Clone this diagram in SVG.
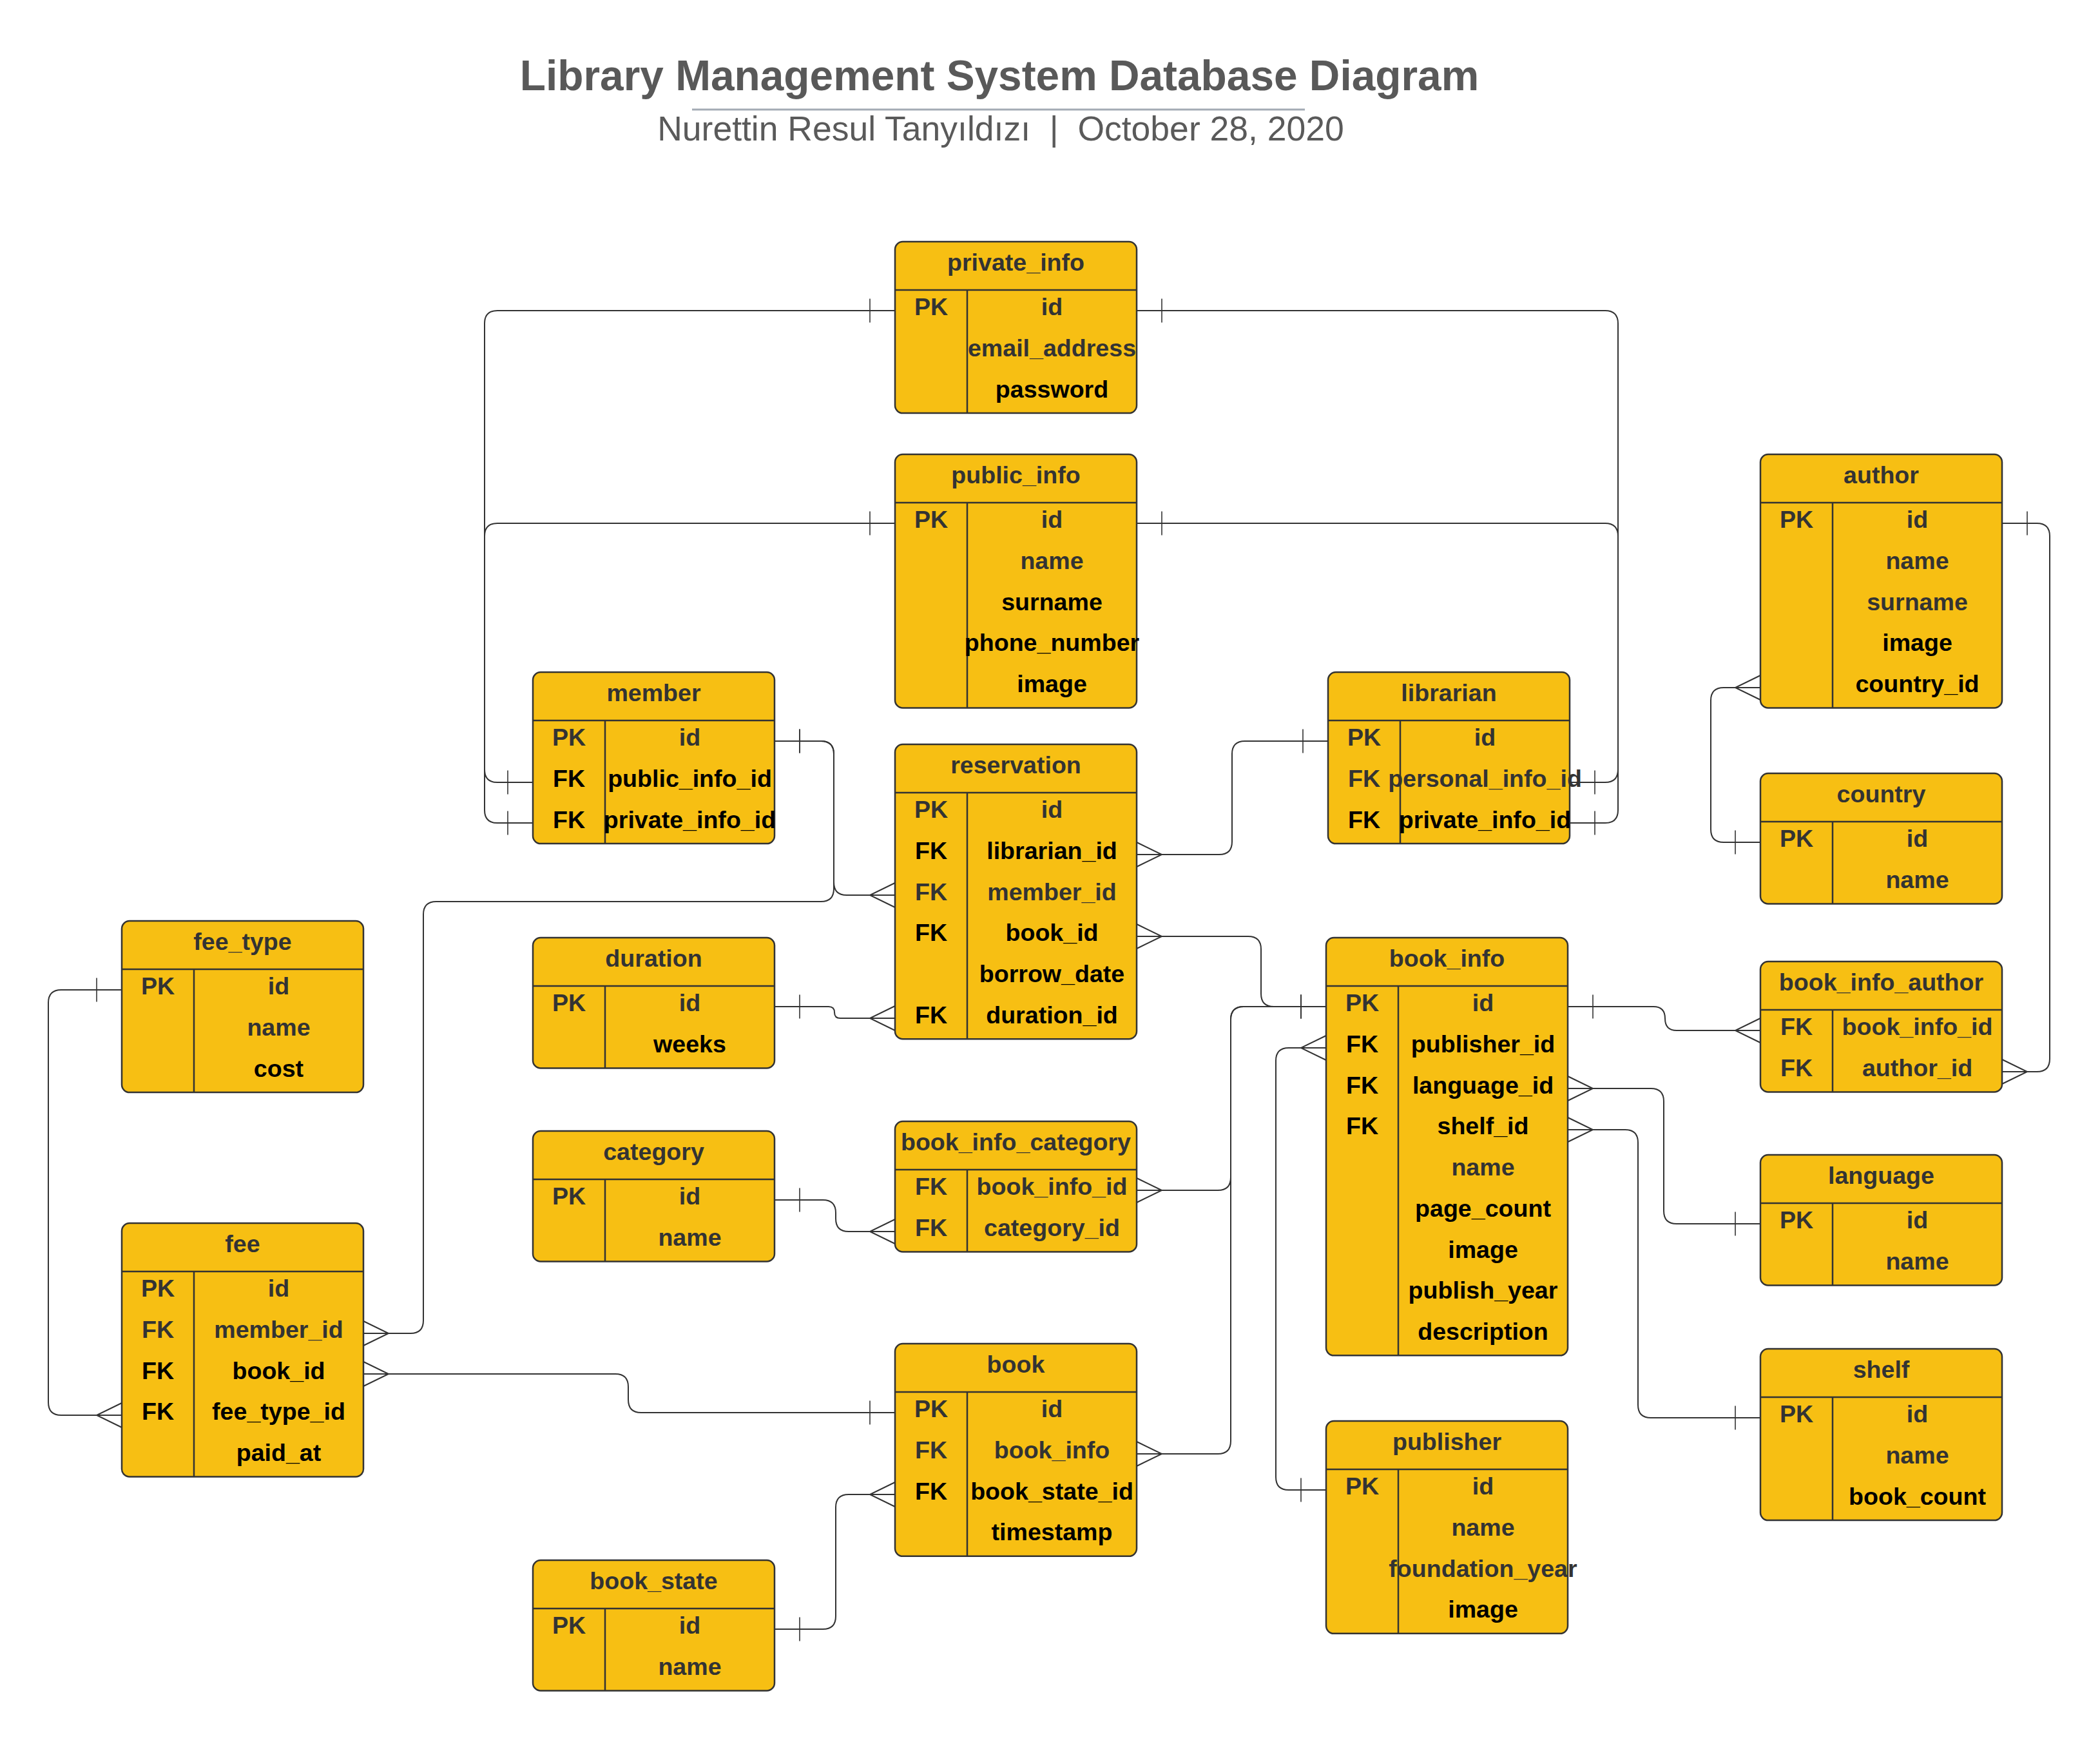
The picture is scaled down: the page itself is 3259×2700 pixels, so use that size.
<svg xmlns="http://www.w3.org/2000/svg" width="3259" height="2700" viewBox="0 0 3259 2700">
<style>
.box{fill:#F7BF13;stroke:#333;stroke-width:2.5}
.sep{stroke:#333;stroke-width:2.5}
.ln{fill:none;stroke:#333;stroke-width:2}
text{font-family:"Liberation Sans",Arial,sans-serif;font-weight:bold;font-size:37.6px;text-anchor:middle;fill:#333}
text.k{fill:#000}
.title{font-size:65.8px;fill:#595959}
.sub{font-size:53.5px;font-weight:normal;fill:#5A5A5A}
</style>
<defs>
<marker id="one" markerUnits="userSpaceOnUse" viewBox="-50 -30 100 60" markerWidth="100" markerHeight="60" refX="0" refY="0" orient="auto-start-reverse" overflow="visible"><path d="M-39,-18.5 V18.5" stroke="#333" stroke-width="1.6" fill="none"/></marker>
<marker id="many" markerUnits="userSpaceOnUse" viewBox="-50 -30 100 60" markerWidth="100" markerHeight="60" refX="0" refY="0" orient="auto-start-reverse" overflow="visible"><path d="M0,-19 L-39,0 L0,19" stroke="#333" stroke-width="2" fill="none"/></marker>
</defs>
<rect width="3259" height="2700" fill="#fff"/>
<g id="title">
<text class="title" x="1551" y="140">Library Management System Database Diagram</text>
<line x1="1074" y1="170" x2="2025" y2="170" stroke="#A3ABB4" stroke-width="3"/>
<text class="sub" x="1553" y="218" xml:space="preserve">Nurettin Resul Tanyıldızı  |  October 28, 2020</text>
</g>

<g id="private_info" transform="translate(1389,375)">
<rect class="box" width="375" height="266.1" rx="12"/><line class="sep" x1="0" y1="75" x2="375" y2="75"/><line class="sep" x1="112" y1="75" x2="112" y2="266.1"/>
<text x="187.5" y="45">private_info</text>
<text x="56" y="114.3">PK</text><text x="243.5" y="114.3">id</text>
<text x="243.5" y="178">email_address</text>
<text class="k" x="243.5" y="241.7">password</text>
</g>

<g id="public_info" transform="translate(1389,705)">
<rect class="box" width="375" height="393.5" rx="12"/><line class="sep" x1="0" y1="75" x2="375" y2="75"/><line class="sep" x1="112" y1="75" x2="112" y2="393.5"/>
<text x="187.5" y="45">public_info</text>
<text x="56" y="114.3">PK</text><text x="243.5" y="114.3">id</text>
<text x="243.5" y="178">name</text>
<text class="k" x="243.5" y="241.7">surname</text>
<text class="k" x="243.5" y="305.4">phone_number</text>
<text class="k" x="243.5" y="369.1">image</text>
</g>

<g id="member" transform="translate(827,1043)">
<rect class="box" width="375" height="266.1" rx="12"/><line class="sep" x1="0" y1="75" x2="375" y2="75"/><line class="sep" x1="112" y1="75" x2="112" y2="266.1"/>
<text x="187.5" y="45">member</text>
<text x="56" y="114.3">PK</text><text x="243.5" y="114.3">id</text>
<text class="k" x="56" y="178">FK</text><text class="k" x="243.5" y="178">public_info_id</text>
<text class="k" x="56" y="241.7">FK</text><text class="k" x="243.5" y="241.7">private_info_id</text>
</g>

<g id="librarian" transform="translate(2061,1043)">
<rect class="box" width="375" height="266.1" rx="12"/><line class="sep" x1="0" y1="75" x2="375" y2="75"/><line class="sep" x1="112" y1="75" x2="112" y2="266.1"/>
<text x="187.5" y="45">librarian</text>
<text x="56" y="114.3">PK</text><text x="243.5" y="114.3">id</text>
<text x="56" y="178">FK</text><text x="243.5" y="178">personal_info_id</text>
<text class="k" x="56" y="241.7">FK</text><text class="k" x="243.5" y="241.7">private_info_id</text>
</g>

<g id="reservation" transform="translate(1389,1155)">
<rect class="box" width="375" height="457.2" rx="12"/><line class="sep" x1="0" y1="75" x2="375" y2="75"/><line class="sep" x1="112" y1="75" x2="112" y2="457.2"/>
<text x="187.5" y="45">reservation</text>
<text x="56" y="114.3">PK</text><text x="243.5" y="114.3">id</text>
<text class="k" x="56" y="178">FK</text><text class="k" x="243.5" y="178">librarian_id</text>
<text x="56" y="241.7">FK</text><text x="243.5" y="241.7">member_id</text>
<text class="k" x="56" y="305.4">FK</text><text class="k" x="243.5" y="305.4">book_id</text>
<text class="k" x="243.5" y="369.1">borrow_date</text>
<text class="k" x="56" y="432.8">FK</text><text class="k" x="243.5" y="432.8">duration_id</text>
</g>

<g id="author" transform="translate(2732,705)">
<rect class="box" width="375" height="393.5" rx="12"/><line class="sep" x1="0" y1="75" x2="375" y2="75"/><line class="sep" x1="112" y1="75" x2="112" y2="393.5"/>
<text x="187.5" y="45">author</text>
<text x="56" y="114.3">PK</text><text x="243.5" y="114.3">id</text>
<text x="243.5" y="178">name</text>
<text x="243.5" y="241.7">surname</text>
<text class="k" x="243.5" y="305.4">image</text>
<text class="k" x="243.5" y="369.1">country_id</text>
</g>

<g id="country" transform="translate(2732,1200)">
<rect class="box" width="375" height="202.4" rx="12"/><line class="sep" x1="0" y1="75" x2="375" y2="75"/><line class="sep" x1="112" y1="75" x2="112" y2="202.4"/>
<text x="187.5" y="45">country</text>
<text x="56" y="114.3">PK</text><text x="243.5" y="114.3">id</text>
<text x="243.5" y="178">name</text>
</g>

<g id="fee_type" transform="translate(189,1429)">
<rect class="box" width="375" height="266.1" rx="12"/><line class="sep" x1="0" y1="75" x2="375" y2="75"/><line class="sep" x1="112" y1="75" x2="112" y2="266.1"/>
<text x="187.5" y="45">fee_type</text>
<text x="56" y="114.3">PK</text><text x="243.5" y="114.3">id</text>
<text x="243.5" y="178">name</text>
<text class="k" x="243.5" y="241.7">cost</text>
</g>

<g id="duration" transform="translate(827,1455)">
<rect class="box" width="375" height="202.4" rx="12"/><line class="sep" x1="0" y1="75" x2="375" y2="75"/><line class="sep" x1="112" y1="75" x2="112" y2="202.4"/>
<text x="187.5" y="45">duration</text>
<text x="56" y="114.3">PK</text><text x="243.5" y="114.3">id</text>
<text class="k" x="243.5" y="178">weeks</text>
</g>

<g id="book_info" transform="translate(2058,1455)">
<rect class="box" width="375" height="648.3" rx="12"/><line class="sep" x1="0" y1="75" x2="375" y2="75"/><line class="sep" x1="112" y1="75" x2="112" y2="648.3"/>
<text x="187.5" y="45">book_info</text>
<text x="56" y="114.3">PK</text><text x="243.5" y="114.3">id</text>
<text class="k" x="56" y="178">FK</text><text class="k" x="243.5" y="178">publisher_id</text>
<text class="k" x="56" y="241.7">FK</text><text class="k" x="243.5" y="241.7">language_id</text>
<text class="k" x="56" y="305.4">FK</text><text class="k" x="243.5" y="305.4">shelf_id</text>
<text x="243.5" y="369.1">name</text>
<text class="k" x="243.5" y="432.8">page_count</text>
<text class="k" x="243.5" y="496.5">image</text>
<text class="k" x="243.5" y="560.2">publish_year</text>
<text class="k" x="243.5" y="623.9">description</text>
</g>

<g id="book_info_author" transform="translate(2732,1492)">
<rect class="box" width="375" height="202.4" rx="12"/><line class="sep" x1="0" y1="75" x2="375" y2="75"/><line class="sep" x1="112" y1="75" x2="112" y2="202.4"/>
<text x="187.5" y="45">book_info_author</text>
<text x="56" y="114.3">FK</text><text x="243.5" y="114.3">book_info_id</text>
<text x="56" y="178">FK</text><text x="243.5" y="178">author_id</text>
</g>

<g id="category" transform="translate(827,1755)">
<rect class="box" width="375" height="202.4" rx="12"/><line class="sep" x1="0" y1="75" x2="375" y2="75"/><line class="sep" x1="112" y1="75" x2="112" y2="202.4"/>
<text x="187.5" y="45">category</text>
<text x="56" y="114.3">PK</text><text x="243.5" y="114.3">id</text>
<text x="243.5" y="178">name</text>
</g>

<g id="book_info_category" transform="translate(1389,1740)">
<rect class="box" width="375" height="202.4" rx="12"/><line class="sep" x1="0" y1="75" x2="375" y2="75"/><line class="sep" x1="112" y1="75" x2="112" y2="202.4"/>
<text x="187.5" y="45">book_info_category</text>
<text x="56" y="114.3">FK</text><text x="243.5" y="114.3">book_info_id</text>
<text x="56" y="178">FK</text><text x="243.5" y="178">category_id</text>
</g>

<g id="language" transform="translate(2732,1792)">
<rect class="box" width="375" height="202.4" rx="12"/><line class="sep" x1="0" y1="75" x2="375" y2="75"/><line class="sep" x1="112" y1="75" x2="112" y2="202.4"/>
<text x="187.5" y="45">language</text>
<text x="56" y="114.3">PK</text><text x="243.5" y="114.3">id</text>
<text x="243.5" y="178">name</text>
</g>

<g id="fee" transform="translate(189,1898)">
<rect class="box" width="375" height="393.5" rx="12"/><line class="sep" x1="0" y1="75" x2="375" y2="75"/><line class="sep" x1="112" y1="75" x2="112" y2="393.5"/>
<text x="187.5" y="45">fee</text>
<text x="56" y="114.3">PK</text><text x="243.5" y="114.3">id</text>
<text x="56" y="178">FK</text><text x="243.5" y="178">member_id</text>
<text class="k" x="56" y="241.7">FK</text><text class="k" x="243.5" y="241.7">book_id</text>
<text class="k" x="56" y="305.4">FK</text><text class="k" x="243.5" y="305.4">fee_type_id</text>
<text class="k" x="243.5" y="369.1">paid_at</text>
</g>

<g id="book" transform="translate(1389,2085)">
<rect class="box" width="375" height="329.8" rx="12"/><line class="sep" x1="0" y1="75" x2="375" y2="75"/><line class="sep" x1="112" y1="75" x2="112" y2="329.8"/>
<text x="187.5" y="45">book</text>
<text x="56" y="114.3">PK</text><text x="243.5" y="114.3">id</text>
<text x="56" y="178">FK</text><text x="243.5" y="178">book_info</text>
<text class="k" x="56" y="241.7">FK</text><text class="k" x="243.5" y="241.7">book_state_id</text>
<text class="k" x="243.5" y="305.4">timestamp</text>
</g>

<g id="shelf" transform="translate(2732,2093)">
<rect class="box" width="375" height="266.1" rx="12"/><line class="sep" x1="0" y1="75" x2="375" y2="75"/><line class="sep" x1="112" y1="75" x2="112" y2="266.1"/>
<text x="187.5" y="45">shelf</text>
<text x="56" y="114.3">PK</text><text x="243.5" y="114.3">id</text>
<text x="243.5" y="178">name</text>
<text class="k" x="243.5" y="241.7">book_count</text>
</g>

<g id="publisher" transform="translate(2058,2205)">
<rect class="box" width="375" height="329.8" rx="12"/><line class="sep" x1="0" y1="75" x2="375" y2="75"/><line class="sep" x1="112" y1="75" x2="112" y2="329.8"/>
<text x="187.5" y="45">publisher</text>
<text x="56" y="114.3">PK</text><text x="243.5" y="114.3">id</text>
<text x="243.5" y="178">name</text>
<text x="243.5" y="241.7">foundation_year</text>
<text class="k" x="243.5" y="305.4">image</text>
</g>

<g id="book_state" transform="translate(827,2421)">
<rect class="box" width="375" height="202.4" rx="12"/><line class="sep" x1="0" y1="75" x2="375" y2="75"/><line class="sep" x1="112" y1="75" x2="112" y2="202.4"/>
<text x="187.5" y="45">book_state</text>
<text x="56" y="114.3">PK</text><text x="243.5" y="114.3">id</text>
<text x="243.5" y="178">name</text>
</g>

<g id="connectors">
<path class="ln" marker-start="url(#one)" marker-end="url(#one)" d="M1389,482 H772 Q752,482 752,502 V1257 Q752,1277 772,1277 H827"/>
<path class="ln" marker-start="url(#one)" marker-end="url(#one)" d="M1389,812 H772 Q752,812 752,832 V1194 Q752,1214 772,1214 H827"/>
<path class="ln" marker-start="url(#one)" marker-end="url(#one)" d="M1764,482 H2491 Q2511,482 2511,502 V1257 Q2511,1277 2491,1277 H2436"/>
<path class="ln" marker-start="url(#one)" marker-end="url(#one)" d="M1764,812 H2491 Q2511,812 2511,832 V1194 Q2511,1214 2491,1214 H2436"/>
<path class="ln" marker-start="url(#one)" marker-end="url(#many)" d="M1202,1150 H1274 Q1294,1150 1294,1170 V1369 Q1294,1389 1314,1389 H1389"/>
<path class="ln" marker-start="url(#many)" marker-end="url(#one)" d="M564,2069 H637 Q657,2069 657,2049 V1419 Q657,1399 677,1399 H1274 Q1294,1399 1294,1379 V1170 Q1294,1150 1274,1150 H1202"/>
<path class="ln" marker-start="url(#one)" marker-end="url(#many)" d="M2061,1150 H1932 Q1912,1150 1912,1170 V1306 Q1912,1326 1892,1326 H1764"/>
<path class="ln" marker-start="url(#many)" marker-end="url(#one)" d="M1764,1453 H1937 Q1957,1453 1957,1473 V1542 Q1957,1562 1977,1562 H2058"/>
<path class="ln" marker-start="url(#many)" marker-end="url(#one)" d="M1764,1847 H1890 Q1910,1847 1910,1827 V1582 Q1910,1562 1930,1562 H2058"/>
<path class="ln" marker-start="url(#many)" marker-end="url(#one)" d="M1764,2256 H1890 Q1910,2256 1910,2236 V1582 Q1910,1562 1930,1562 H2058"/>
<path class="ln" marker-start="url(#one)" marker-end="url(#many)" d="M1202,1562 H1286 Q1295,1562 1295,1571 Q1295,1580 1304,1580 H1389"/>
<path class="ln" marker-start="url(#one)" marker-end="url(#many)" d="M1202,1862 H1277 Q1297,1862 1297,1882 V1891 Q1297,1911 1317,1911 H1389"/>
<path class="ln" marker-start="url(#one)" marker-end="url(#many)" d="M1202,2528 H1277 Q1297,2528 1297,2508 V2339 Q1297,2319 1317,2319 H1389"/>
<path class="ln" marker-start="url(#many)" marker-end="url(#one)" d="M564,2132 H955 Q975,2132 975,2152 V2172 Q975,2192 995,2192 H1389"/>
<path class="ln" marker-start="url(#one)" marker-end="url(#many)" d="M189,1536 H95 Q75,1536 75,1556 V2176 Q75,2196 95,2196 H189"/>
<path class="ln" marker-start="url(#one)" marker-end="url(#many)" d="M2433,1562 H2566 Q2584,1562 2584,1580.5 Q2584,1599 2602,1599 H2732"/>
<path class="ln" marker-start="url(#one)" marker-end="url(#many)" d="M3107,812 H3161 Q3181,812 3181,832 V1643 Q3181,1663 3161,1663 H3107"/>
<path class="ln" marker-start="url(#one)" marker-end="url(#many)" d="M2732,1307 H2675 Q2655,1307 2655,1287 V1087 Q2655,1067 2675,1067 H2732"/>
<path class="ln" marker-start="url(#many)" marker-end="url(#one)" d="M2433,1689 H2562 Q2582,1689 2582,1709 V1879 Q2582,1899 2602,1899 H2732"/>
<path class="ln" marker-start="url(#many)" marker-end="url(#one)" d="M2433,1753 H2522 Q2542,1753 2542,1773 V2180 Q2542,2200 2562,2200 H2732"/>
<path class="ln" marker-start="url(#many)" marker-end="url(#one)" d="M2058,1626 H2000 Q1980,1626 1980,1646 V2292 Q1980,2312 2000,2312 H2058"/>
</g>
</svg>
